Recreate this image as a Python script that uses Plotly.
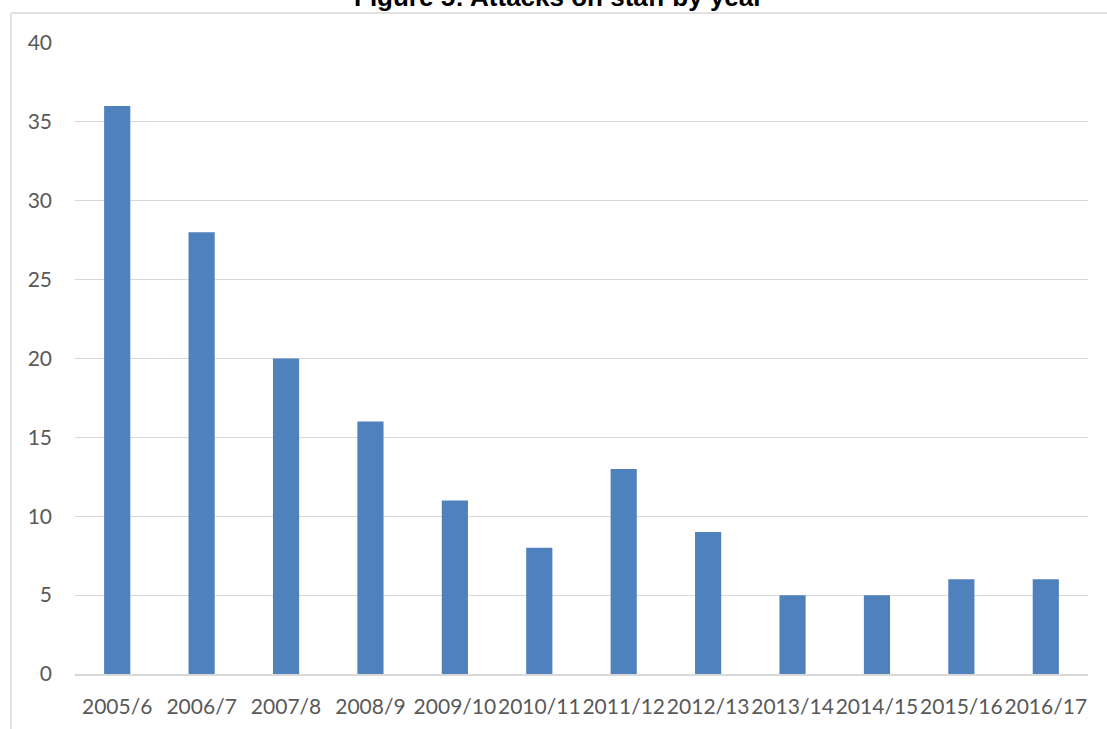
import plotly.graph_objects as go

# Attacks on staff, by financial year
years = ["2005/6", "2006/7", "2007/8", "2008/9", "2009/10", "2010/11",
         "2011/12", "2012/13", "2013/14", "2014/15", "2015/16", "2016/17"]
attacks = [36, 28, 20, 16, 11, 8, 13, 9, 5, 5, 6, 6]
y_ticks = [0, 5, 10, 15, 20, 25, 30, 35, 40]

title_text = "Figure 5: Attacks on staff by year"

W, H = 1107, 729
ML, MR, MT, MB = 75, 19, 43, 55
pw, ph = W - ML - MR, H - MT - MB

fig = go.Figure(go.Bar(
    x=years, y=attacks,
    marker=dict(color="#4f81bd", line=dict(width=0)),
    width=0.31,
))

grid = "#d9d9d9"
label_font = dict(family="Lato", size=21, color="#595959")

fig.update_layout(
    width=W, height=H,
    margin=dict(l=ML, r=MR, t=MT, b=MB, pad=0, autoexpand=False),
    paper_bgcolor="white", plot_bgcolor="white",
    showlegend=False,
    xaxis=dict(
        type="category", showgrid=False, zeroline=False,
        showline=True, linecolor=grid, linewidth=1.5, automargin=False,
        ticks="", tickfont=label_font, ticklabelstandoff=13, tickangle=0,
    ),
    yaxis=dict(
        range=[0, 40], tickvals=y_ticks, showgrid=True, gridcolor=grid,
        gridwidth=1, zeroline=False, showline=False, ticks="", automargin=False,
        tickfont=label_font, ticklabelstandoff=22,
    ),
    annotations=[dict(
        text="<b>" + title_text + "</b>", xref="paper", yref="paper",
        x=(558 - ML) / pw, y=1 + (MT - 14) / ph, xanchor="center",
        yanchor="bottom", showarrow=False,
        font=dict(family="Liberation Sans", size=26, color="black"),
    )],
    shapes=[
        # chart-area frame: left and top edges
        dict(type="line", xref="paper", yref="paper",
             x0=(11 - ML) / pw, x1=(11 - ML) / pw,
             y0=1 + (MT - 13) / ph, y1=-(MB + 5) / ph,
             line=dict(color=grid, width=1.5)),
        dict(type="line", xref="paper", yref="paper",
             x0=(11 - ML) / pw, x1=1 + (MR + 5) / pw,
             y0=1 + (MT - 13) / ph, y1=1 + (MT - 13) / ph,
             line=dict(color=grid, width=1.5)),
    ],
)

fig.write_html("out.html")
